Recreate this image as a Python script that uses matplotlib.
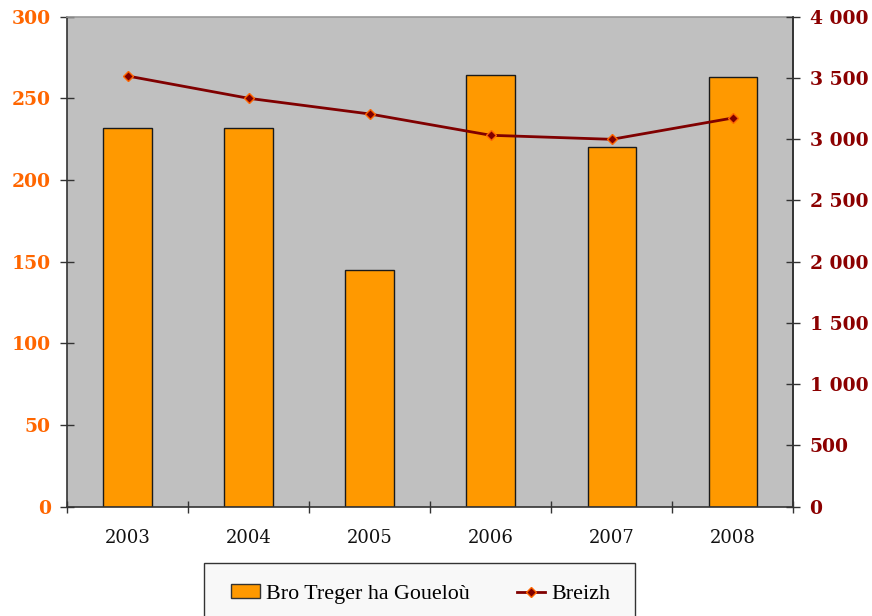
import matplotlib
matplotlib.use("Agg")
import matplotlib.pyplot as plt
from matplotlib.patches import Patch, Rectangle
from matplotlib.lines import Line2D
import numpy as np

years = ["2003", "2004", "2005", "2006", "2007", "2008"]
bro_treger = [232, 232, 145, 264, 220, 263]
breizh = [3516, 3334, 3206, 3032, 2999, 3173]
left_ticks = [0, 50, 100, 150, 200, 250, 300]
right_ticks = [0, 500, 1000, 1500, 2000, 2500, 3000, 3500, 4000]
right_labels = ["0", "500", "1 000", "1 500", "2 000", "2 500", "3 000", "3 500", "4 000"]

SERIF = ["DejaVu Serif"]
LEG_FONT = ["Liberation Serif", "DejaVu Serif"]
ORANGE_TXT = "#ff6600"
DARKRED = "#8b0000"

fig = plt.figure(figsize=(8.72, 6.16), dpi=100)
W, H = 872, 616
ax = fig.add_axes([67 / W, 1 - 506.7 / H, (793.3 - 67) / W, (506.7 - 16.7) / H])
ax.set_facecolor("#c0c0c0")
x = np.arange(len(years))
ax.bar(x, bro_treger, width=0.4, color="#ff9900", edgecolor="#1a1a1a", linewidth=1.0, zorder=2)
ax.set_xlim(-0.5, len(years) - 0.5)
ax.set_ylim(0, 300)
ax.set_yticks(left_ticks)
ax.set_yticklabels([str(t) for t in left_ticks], fontfamily=SERIF, fontweight="bold",
                   fontsize=13.5, color=ORANGE_TXT)
ax.tick_params(axis="y", direction="inout", length=9.5, width=1.0, color="#333333", pad=7)

ax.set_xticks(np.arange(-0.5, len(years), 1.0))
ax.set_xticklabels([])
ax.set_xticks(x, minor=True)
ax.set_xticklabels(years, minor=True, fontfamily=SERIF, fontsize=13, color="#111111")
ax.tick_params(axis="x", which="major", direction="inout", length=9, width=1.0, color="#333333")
ax.tick_params(axis="x", which="minor", length=0, pad=16)

for s in ["left", "bottom"]:
    ax.spines[s].set_color("#333333")
    ax.spines[s].set_linewidth(1.2)
ax.spines["top"].set_color("#999999")
ax.spines["top"].set_linewidth(1.2)
ax.spines["right"].set_color("#333333")
ax.spines["right"].set_linewidth(1.2)

ax2 = ax.twinx()
ax2.plot(x, breizh, color="#800000", linewidth=2.0, marker="D", markersize=5.5,
         markerfacecolor="#800000", markeredgecolor="#ff6600", markeredgewidth=1.0, zorder=3)
ax2.set_ylim(0, 4000)
ax2.set_yticks(right_ticks)
ax2.set_yticklabels(right_labels, fontfamily=SERIF, fontweight="bold", fontsize=13.5, color=DARKRED)
ax2.tick_params(axis="y", direction="inout", length=9.5, width=1.0, color="#333333", pad=7)
for s in ["left", "bottom", "top"]:
    ax2.spines[s].set_visible(False)
ax2.spines["right"].set_color("#333333")
ax2.spines["right"].set_linewidth(1.2)

# legend frame
frame = Rectangle((204 / W, -0.05), 431 / W, (1 - 562.7 / H) + 0.05, transform=fig.transFigure,
                  facecolor="#f8f8f8", edgecolor="#333333", linewidth=1.0, zorder=4)
fig.add_artist(frame)

handles = [Patch(facecolor="#ff9900", edgecolor="#333333", linewidth=1.0),
           Line2D([0], [0], color="#800000", linewidth=2.0, marker="D", markersize=5,
                  markerfacecolor="#800000", markeredgecolor="#ff6600")]
leg = fig.legend(handles, ["Bro Treger ha Goueloù", "Breizh"], loc="center left",
                 bbox_to_anchor=(231 / W, 1 - 604 / H, (610.5 - 231) / W, 20 / H),
                 bbox_transform=fig.transFigure,
                 mode="expand", ncol=2, frameon=False,
                 prop={"family": LEG_FONT, "size": 15.8}, borderpad=0, handlelength=1.3,
                 handleheight=0.56, handletextpad=0.28, borderaxespad=0)
leg.set_zorder(5)

fig.savefig("out.png", dpi=100)
